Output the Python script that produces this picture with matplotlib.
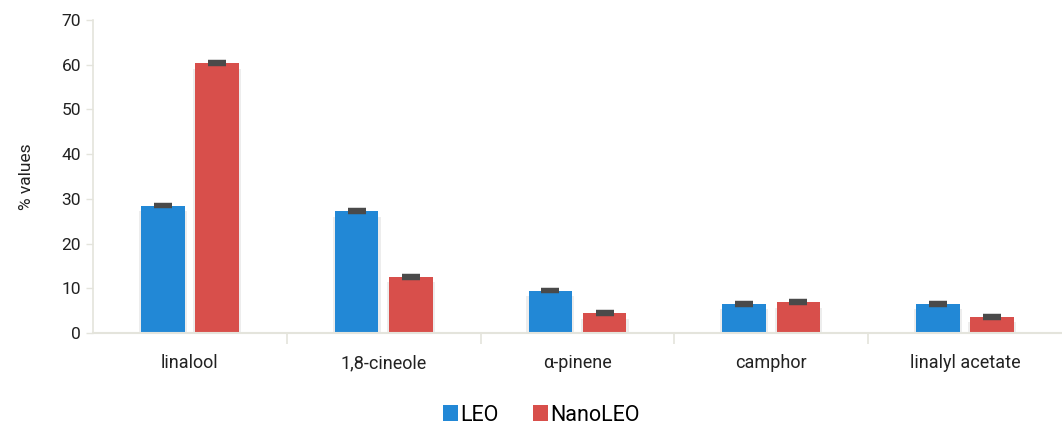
import numpy as np
import matplotlib.pyplot as plt

plt.rcParams['font.family'] = ['Roboto', 'DejaVu Sans']

compounds = ['linalool', '1,8-cineole', '\u03b1-pinene', 'camphor', 'linalyl acetate']
leo = [28.5, 27.2, 9.5, 6.5, 6.5]
nano_leo = [60.3, 12.6, 4.4, 6.9, 3.6]
leo_err = [0.2, 0.2, 0.2, 0.2, 0.2]
nano_err = [0.2, 0.2, 0.2, 0.2, 0.2]

blue = '#2288d6'
red = '#d84f4b'
grid_col = '#e4e4dc'

fig = plt.figure(figsize=(10.62, 4.32), dpi=100)
ax = fig.add_axes([0.0876, 0.229, 0.9124, 0.725])

x = np.arange(len(compounds))
w = 0.225
off = 0.14

# faint shadow round the bars
for xs, vals in ((x - off, leo), (x + off, nano_leo)):
    ax.bar(xs, np.array(vals) - 1.2, w + 0.022, color='#000000', alpha=0.07, zorder=1)

ax.bar(x - off, leo, w, color=blue, label='LEO', zorder=2)
ax.bar(x + off, nano_leo, w, color=red, label='NanoLEO', zorder=2)

ax.errorbar(x - off, leo, yerr=leo_err, fmt='none', ecolor='#4a4a4a',
            elinewidth=0, capsize=6.5, capthick=3.2, zorder=3)
ax.errorbar(x + off, nano_leo, yerr=nano_err, fmt='none', ecolor='#4a4a4a',
            elinewidth=0, capsize=6.5, capthick=3.2, zorder=3)

ax.set_xlim(-0.5, len(compounds) - 0.5)
ax.set_ylim(0, 70)
ax.set_yticks(range(0, 71, 10))

ax.set_xticks(x)
ax.set_xticklabels(compounds, fontsize=13, color='#222222')
ax.set_xticks(np.arange(0.5, len(compounds) - 0.5, 1), minor=True)
ax.tick_params(axis='x', which='major', length=0, pad=15)
ax.tick_params(axis='x', which='minor', length=8, color=grid_col, width=1.2)
ax.tick_params(axis='y', length=5, color=grid_col, width=1, labelsize=12.5,
               labelcolor='#222222')

for s in ['top', 'right']:
    ax.spines[s].set_visible(False)
ax.spines['left'].set_color(grid_col)
ax.spines['bottom'].set_color(grid_col)
ax.spines['left'].set_linewidth(1.2)
ax.spines['bottom'].set_linewidth(1.5)

ax.set_ylabel('% values', fontsize=12.5, color='#222222', labelpad=20)

ax.legend(loc='upper center', bbox_to_anchor=(0.463, -0.18), ncol=2, frameon=False,
          fontsize=15.5, handlelength=0.7, handleheight=0.7, handletextpad=0.1,
          columnspacing=1.6, borderaxespad=0.3)

fig.savefig('out.png', dpi=100)
